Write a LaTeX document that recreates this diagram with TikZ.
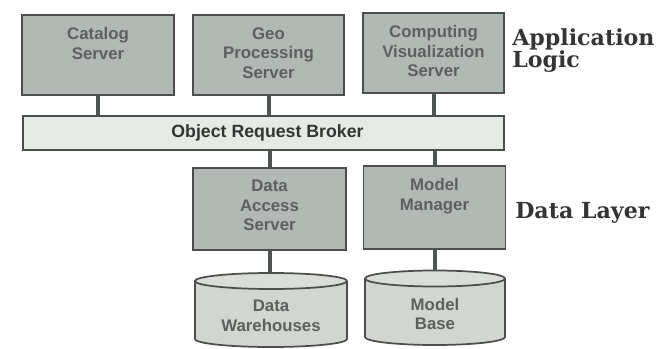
\documentclass[tikz,border=0pt]{standalone}
\usepackage{fontspec}
\newfontfamily\boxfont{Liberation Sans}
\newfontfamily\lblfont{DejaVu Serif}
\definecolor{boxgray}{RGB}{178,184,180}
\definecolor{orbgray}{RGB}{230,234,229}
\definecolor{cylgray}{RGB}{210,213,208}
\definecolor{cyltopgray}{RGB}{218,221,216}
\definecolor{edge}{RGB}{75,78,76}
\definecolor{linkgray}{RGB}{80,84,82}
\definecolor{textgray}{RGB}{92,96,94}
\definecolor{labelgray}{RGB}{50,53,51}
\begin{document}
\begin{tikzpicture}[x=0.75pt,y=-0.75pt,
  srv/.style={draw=edge, line width=1.3pt, fill=boxgray, inner sep=0pt},
  orbbox/.style={draw=edge, line width=1.3pt, fill=orbgray, inner sep=0pt},
  txt/.style={font=\boxfont\bfseries\fontsize{12.6}{14.6}\selectfont, text=textgray, align=center, inner sep=0pt, anchor=north},
  link/.style={line width=3pt, draw=linkgray},
  cylbody/.style={fill=cylgray},
  cylline/.style={draw=edge, line width=1.3pt},
  cyltop/.style={draw=edge, line width=1.3pt, fill=cyltopgray},
  layer/.style={font=\lblfont\bfseries\fontsize{16.6}{16}\selectfont, text=labelgray, anchor=base west, inner sep=0pt, align=left}]
\useasboundingbox (0,0) rectangle (656,349);

\node[srv, minimum width=114pt, minimum height=60pt] (cat) at (98,55) {};
\node[srv, minimum width=113.25pt, minimum height=60pt] (geo) at (268.5,55) {};
\node[srv, minimum width=105.75pt, minimum height=60pt] (comp) at (433.5,53) {};
\node[orbbox, minimum width=360.75pt, minimum height=25.5pt] (orb) at (263.5,133) {};
\node[srv, minimum width=114.75pt, minimum height=61.5pt] (das) at (269.5,209) {};
\node[srv, minimum width=106.5pt, minimum height=62.25pt] (mm) at (434.5,207.5) {};

\node[txt] (catT) at ([yshift=-9.75pt]cat.north) {Catalog\\Server};
\node[txt] (geoT) at ([yshift=-9.75pt]geo.north) {Geo\\Processing\\Server};
\node[txt] (compT) at ([yshift=-9.75pt]comp.north) {Computing\\Visualization\\Server};
\node[txt, font=\boxfont\bfseries\fontsize{13.3}{15}\selectfont, text=labelgray, anchor=center] (orbT) at ([xshift=3pt]orb.center) {Object Request Broker};
\node[txt] (dasT) at ([yshift=-9.75pt]das.north) {Data\\Access\\Server};
\node[txt] (mmT) at ([yshift=-9.75pt]mm.north) {Model\\Manager};

% cylinders
\fill[cylbody] (195,281) -- (195,339) arc[start angle=180, end angle=360, x radius=57pt, y radius=6pt] -- (347,281) -- cycle;
\draw[cylline] (195,281) -- (195,339) arc[start angle=180, end angle=360, x radius=57pt, y radius=6pt] -- (347,281);
\draw[cyltop] (271,281) ellipse [x radius=57pt, y radius=6pt];
\coordinate (dwtop) at (271,273);
\node[txt] (dw) at (271,300) {Data\\Warehouses};

\fill[cylbody] (365,278.5) -- (365,337) arc[start angle=180, end angle=360, x radius=52.5pt, y radius=6pt] -- (505,278.5) -- cycle;
\draw[cylline] (365,278.5) -- (365,337) arc[start angle=180, end angle=360, x radius=52.5pt, y radius=6pt] -- (505,278.5);
\draw[cyltop] (435,278.5) ellipse [x radius=52.5pt, y radius=6pt];
\coordinate (mbtop) at (435,270.5);
\node[txt] (mb) at (435,298) {Model\\Base};

% connectors
\draw[link] (cat.south) -- (cat.south |- orb.north);
\draw[link] (geo.south) -- (geo.south |- orb.north);
\draw[link] (comp.south) -- (comp.south |- orb.north);
\draw[link] (das.north |- orb.south) -- (das.north);
\draw[link] (mm.north |- orb.south) -- (mm.north);
\draw[link] (das.south) -- (das.south |- dwtop);
\draw[link] (mm.south) -- (mm.south |- mbtop);

% layer labels
\node[layer] (app) at (512,68) {Application\\Logic};
\node[layer] (data) at (515,218.3) {Data Layer};
\end{tikzpicture}
\end{document}
